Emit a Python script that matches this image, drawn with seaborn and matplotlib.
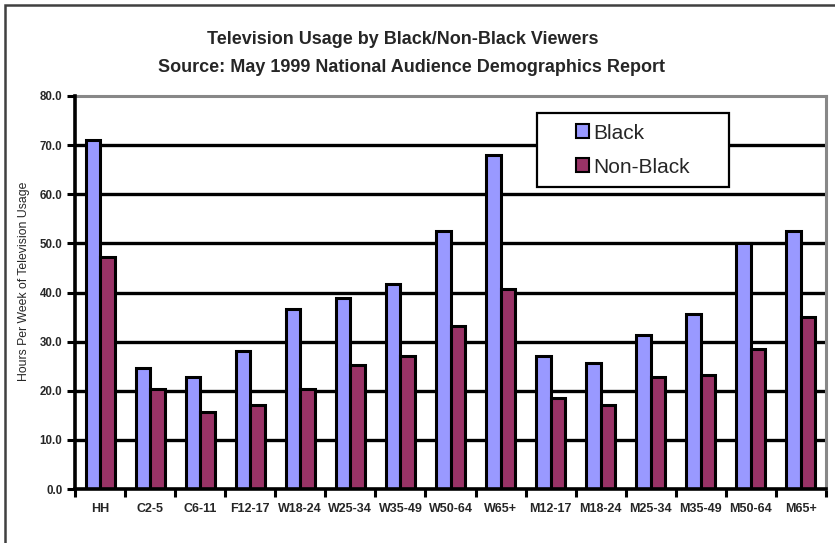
import matplotlib
matplotlib.use("Agg")
import matplotlib.pyplot as plt
import seaborn as sns
import pandas as pd
from matplotlib.patches import Rectangle

categories = ["HH", "C2-5", "C6-11", "F12-17", "W18-24", "W25-34", "W35-49",
              "W50-64", "W65+", "M12-17", "M18-24", "M25-34", "M35-49", "M50-64", "M65+"]
black_vals = [71.0, 24.7, 22.8, 28.1, 36.6, 38.9, 41.8, 52.6, 67.9, 27.1, 25.7, 31.3, 35.7, 50.0, 52.6]
nonblack_vals = [47.2, 20.3, 15.7, 17.0, 20.3, 25.2, 27.0, 33.1, 40.8, 18.5, 17.0, 22.8, 23.2, 28.5, 35.1]
series_names = ["Black", "Non-Black"]
y_ticks = [0, 10, 20, 30, 40, 50, 60, 70, 80]

df = pd.DataFrame({
    "cat": categories * 2,
    "val": black_vals + nonblack_vals,
    "series": [series_names[0]] * len(categories) + [series_names[1]] * len(categories),
})

sns.set_style("white")
plt.rcParams["font.family"] = ["Liberation Sans", "DejaVu Sans"]

fig = plt.figure(figsize=(8.35, 5.43), dpi=100)
ax = fig.add_axes([75 / 835, 1 - 489 / 543, 751 / 835, 393 / 543])

sns.barplot(data=df, x="cat", y="val", hue="series", order=categories,
            hue_order=series_names, palette=["#9999FF", "#993366"],
            width=0.58, gap=0, edgecolor="black", linewidth=2.2,
            saturation=1, ax=ax, legend=False, zorder=3)

ax.set_xlim(-0.5, len(categories) - 0.5)
ax.set_ylim(0, 80)
ax.set_yticks(y_ticks)
ax.set_yticklabels([f"{v:.1f}" for v in y_ticks], fontsize=8.3, fontweight="bold")
ax.set_xticks(range(len(categories)))
ax.set_xticklabels(categories, fontsize=9, fontweight="bold")
ax.tick_params(axis="x", length=0, pad=10)
ax.tick_params(axis="y", length=6, width=2.2, direction="out", color="black", pad=3, left=True)
ax.set_xticks([i + 0.5 for i in range(-1, len(categories))], minor=True)
ax.tick_params(axis="x", which="minor", length=6, width=2.2, direction="out", color="black", bottom=True)

for v in y_ticks[1:-1]:
    ax.axhline(v, color="black", lw=2.4, zorder=1)

ax.set_xlabel("")
ax.set_ylabel("Hours Per Week of Television Usage", fontsize=8.8)
ax.yaxis.set_label_coords(-0.060, 0.529)

for s in ["left", "bottom"]:
    ax.spines[s].set_color("black")
    ax.spines[s].set_linewidth(2.6)
    ax.spines[s].set_zorder(4)
for s in ["top", "right"]:
    ax.spines[s].set_visible(True)
    ax.spines[s].set_color("#888888")
    ax.spines[s].set_linewidth(2.2)

# legend box
ax.add_patch(Rectangle((0.615, 0.768), 0.256, 0.189, transform=ax.transAxes,
                       facecolor="white", edgecolor="black", lw=1.6, zorder=5))
handles = [Rectangle((0, 0), 1, 1, facecolor=c, edgecolor="black", lw=1.5)
           for c in ["#9999FF", "#993366"]]
leg = ax.legend(handles, series_names, loc="center", bbox_to_anchor=(0.743, 0.8625),
                bbox_transform=ax.transAxes, frameon=False, fontsize=15,
                handlelength=0.65, handleheight=0.65, handletextpad=0.2,
                labelspacing=0.72, borderpad=0)
leg.set_zorder(6)

fig.text(0.482, 1 - 40 / 543, "Television Usage by Black/Non-Black Viewers",
         ha="center", va="center", fontsize=13, fontweight="bold")
fig.text(0.493, 1 - 67 / 543, "Source: May 1999 National Audience Demographics Report",
         ha="center", va="center", fontsize=13, fontweight="bold")

fig.patches.append(Rectangle((5 / 835, -0.05), 1.0, 1 - 5 / 543 + 0.05,
                             transform=fig.transFigure, fill=False,
                             edgecolor="#404040", lw=1.8))

fig.savefig("out.png", dpi=100)
